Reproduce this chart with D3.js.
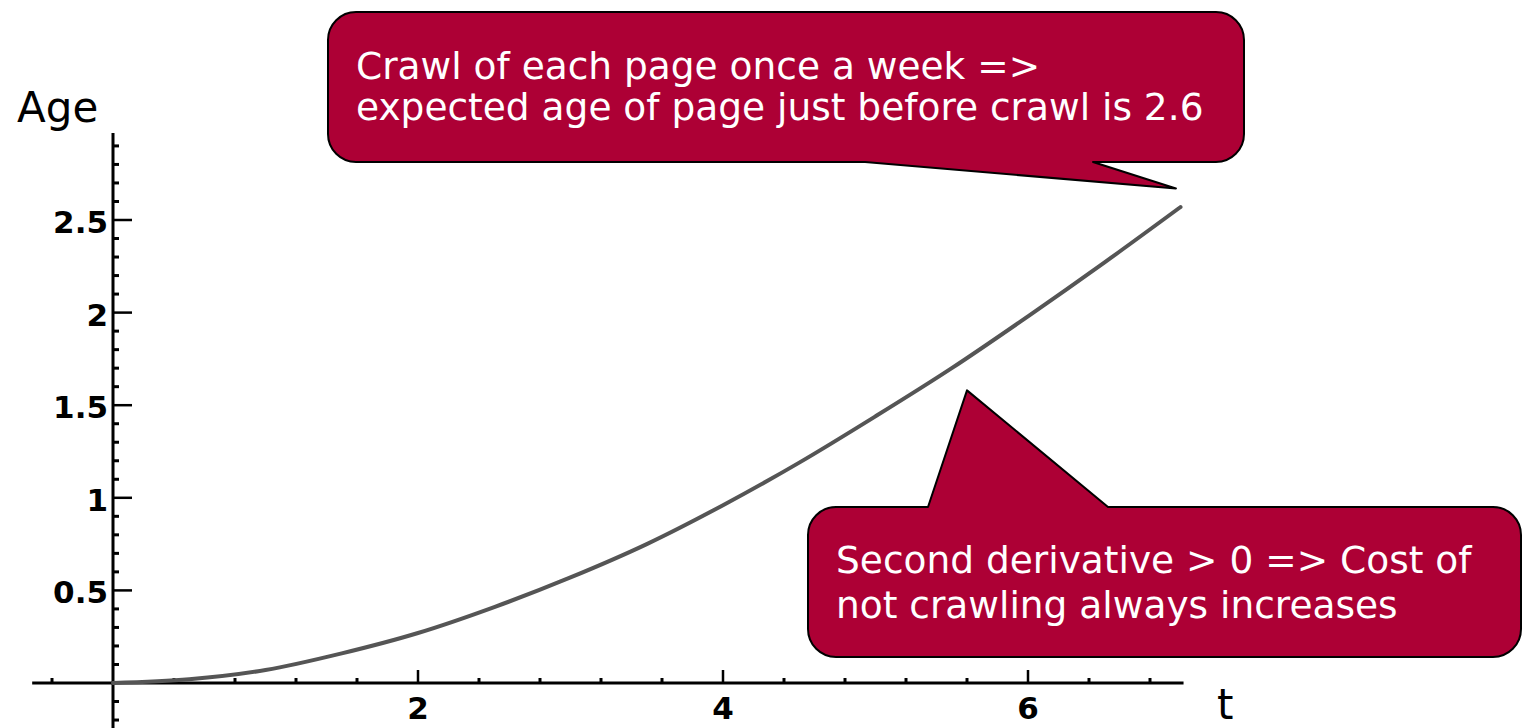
<!DOCTYPE html>
<html>
<head>
<meta charset="utf-8">
<script src="https://cdn.jsdelivr.net/npm/d3@7"></script>
<style>
  html, body { margin: 0; padding: 0; background: #fff; }
  svg { display: block; font-family: "DejaVu Sans", Verdana, sans-serif; }
</style>
</head>
<body>
<svg id="chart" width="1523" height="728"></svg>
<script>
// Values: expected age vs. time since last crawl
var tValues = [0, 0.5, 1, 1.5, 2, 2.5, 3, 3.5, 4, 4.5, 5, 5.5, 6, 6.5, 7];
var ageValues = [0, 0.02, 0.07, 0.16, 0.27, 0.41, 0.57, 0.75, 0.96, 1.19, 1.44, 1.70, 1.98, 2.27, 2.57];

var xMajorTicks = [2, 4, 6];
var yMajorTicks = [0.5, 1, 1.5, 2, 2.5];
var yTickLabels = ["0.5", "1", "1.5", "2", "2.5"];

var topNote = ["Crawl of each page once a week =>",
               "expected age of page just before crawl is 2.6"];
var bottomNote = ["Second derivative > 0 => Cost of",
                  "not crawling always increases"];

var svg = d3.select("#chart");

// scales: t = 0 sits at x 113, age 0 on y 683
var x = d3.scaleLinear().domain([0, 7]).range([113, 1180.5]);
var y = d3.scaleLinear().domain([0, 2.5]).range([683, 220]);

var ink = "#000";
var red = "#ad0035";

// ---- axes (drawn by hand, Mathematica style: ticks point inwards)
var axes = svg.append("g").attr("class", "axes");

axes.append("line")
  .attr("x1", x(-0.53)).attr("x2", x(7.02))
  .attr("y1", y(0)).attr("y2", y(0))
  .attr("stroke", ink).attr("stroke-width", 3);

axes.append("line")
  .attr("x1", x(0)).attr("x2", x(0))
  .attr("y1", y(2.97)).attr("y2", 728)
  .attr("stroke", ink).attr("stroke-width", 3);

// x minor ticks every 0.4
var xMinor = d3.range(-0.4, 7.0, 0.4).filter(function(v) {
  return Math.abs(v) > 1e-6 && xMajorTicks.every(function(m) { return Math.abs(m - v) > 1e-6; });
});
axes.selectAll(".x-minor").data(xMinor).enter().append("line")
  .attr("class", "x-minor")
  .attr("x1", function(d) { return x(d); }).attr("x2", function(d) { return x(d); })
  .attr("y1", y(0)).attr("y2", y(0) - 5)
  .attr("stroke", ink).attr("stroke-width", 3);

axes.selectAll(".x-major").data(xMajorTicks).enter().append("line")
  .attr("class", "x-major")
  .attr("x1", function(d) { return x(d); }).attr("x2", function(d) { return x(d); })
  .attr("y1", y(0)).attr("y2", y(0) - 13)
  .attr("stroke", ink).attr("stroke-width", 2.5);

axes.selectAll(".x-label").data(xMajorTicks).enter().append("text")
  .attr("class", "x-label")
  .attr("x", function(d) { return x(d); })
  .attr("y", 719)
  .attr("text-anchor", "middle")
  .attr("font-size", 31).attr("font-weight", "bold")
  .text(function(d) { return d; });

// y minor ticks every 0.1
var yMinor = d3.range(-2, 30).map(function(i) { return i / 10; }).filter(function(v) {
  return Math.abs(v) > 1e-6 && yMajorTicks.every(function(m) { return Math.abs(m - v) > 1e-6; });
});
axes.selectAll(".y-minor").data(yMinor).enter().append("line")
  .attr("class", "y-minor")
  .attr("x1", x(0)).attr("x2", x(0) + 6)
  .attr("y1", function(d) { return y(d); }).attr("y2", function(d) { return y(d); })
  .attr("stroke", ink).attr("stroke-width", 3);

axes.selectAll(".y-major").data(yMajorTicks).enter().append("line")
  .attr("class", "y-major")
  .attr("x1", x(0)).attr("x2", x(0) + 19)
  .attr("y1", function(d) { return y(d); }).attr("y2", function(d) { return y(d); })
  .attr("stroke", ink).attr("stroke-width", 2.5);

axes.selectAll(".y-label").data(yMajorTicks).enter().append("text")
  .attr("class", "y-label")
  .attr("x", 108)
  .attr("y", function(d) { return y(d) + 13; })
  .attr("text-anchor", "end")
  .attr("font-size", 31).attr("font-weight", "bold")
  .text(function(d, i) { return yTickLabels[i]; });

svg.append("text").attr("x", 17).attr("y", 122)
  .attr("font-size", 42).text("Age");
svg.append("text").attr("x", 1217).attr("y", 719)
  .attr("font-size", 42).text("t");

// ---- the curve
var line = d3.line()
  .x(function(d, i) { return x(tValues[i]); })
  .y(function(d) { return y(d); })
  .curve(d3.curveMonotoneX);

svg.append("path")
  .datum(ageValues)
  .attr("d", line)
  .attr("fill", "none")
  .attr("stroke", "#555")
  .attr("stroke-width", 4)
  .attr("stroke-linecap", "round");

// ---- speech bubbles
// box: [x0, y0, x1, y1]; tail on "top" or "bottom" edge between baseA and baseB
function bubblePath(box, r, side, baseA, baseB, tip) {
  var x0 = box[0], y0 = box[1], x1 = box[2], y1 = box[3];
  var p = d3.path();
  p.moveTo(x0 + r, y0);
  if (side === "top") {
    p.lineTo(baseA, y0);
    p.lineTo(tip[0], tip[1]);
    p.lineTo(baseB, y0);
  }
  p.lineTo(x1 - r, y0);
  p.arcTo(x1, y0, x1, y0 + r, r);
  p.lineTo(x1, y1 - r);
  p.arcTo(x1, y1, x1 - r, y1, r);
  if (side === "bottom") {
    p.lineTo(baseB, y1);
    p.lineTo(tip[0], tip[1]);
    p.lineTo(baseA, y1);
  }
  p.lineTo(x0 + r, y1);
  p.arcTo(x0, y1, x0, y1 - r, r);
  p.lineTo(x0, y0 + r);
  p.arcTo(x0, y0, x0 + r, y0, r);
  p.closePath();
  return p.toString();
}

function drawBubble(box, side, baseA, baseB, tip, lines, textX, baseline, lineGap) {
  var g = svg.append("g").attr("class", "bubble");
  g.append("path")
    .attr("d", bubblePath(box, 28, side, baseA, baseB, tip))
    .attr("fill", red)
    .attr("stroke", ink)
    .attr("stroke-width", 2)
    .attr("stroke-linejoin", "round");
  g.selectAll("text").data(lines).enter().append("text")
    .attr("x", textX)
    .attr("y", function(d, i) { return baseline + i * lineGap; })
    .attr("fill", "#fff")
    .attr("font-size", 37.5)
    .text(function(d) { return d; });
}

// top bubble points at the end of the curve
drawBubble([328, 12, 1244, 162], "bottom", 865, 1093,
  [x(6.97), y(2.67)], topNote, 356, 79, 41);

// bottom bubble points up at the curve around t = 5.6
drawBubble([808, 507, 1521, 657], "top", 928, 1108,
  [x(5.6), y(1.58)], bottomNote, 836, 573, 45);
</script>
</body>
</html>
